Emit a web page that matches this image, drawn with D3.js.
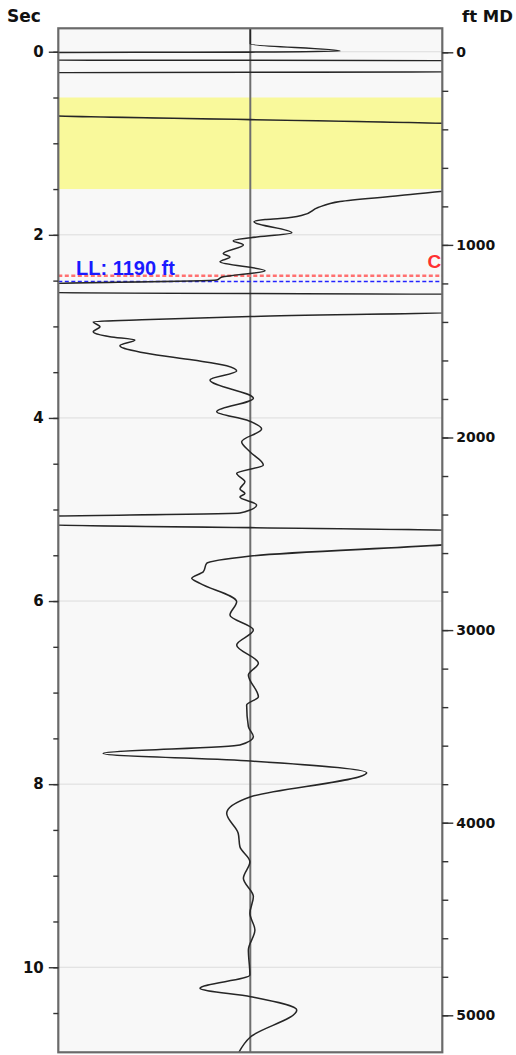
<!DOCTYPE html>
<html>
<head>
<meta charset="utf-8">
<script src="https://cdn.jsdelivr.net/npm/d3@7"></script>
<style>
  body { margin: 0; background: #fff; }
</style>
</head>
<body>
<div id="chartDiv"></div>
<script>
// Trace samples: two-way time (sec) and amplitude (-1..1 fills the track, beyond that is off scale)
var traceTime = [-0.26, -0.084, -0.008, 0.004, 0.009, 0.091, 0.097, 0.221, 0.227, 0.680, 0.803,
  1.455, 1.571, 1.636, 1.702, 1.784, 1.822, 1.833, 1.858, 1.977, 2.032, 2.064, 2.111, 2.204,
  2.243, 2.294, 2.392, 2.461, 2.494, 2.543, 2.630, 2.650, 2.837, 2.892, 2.925, 2.949, 3.004,
  3.058, 3.113, 3.149, 3.211, 3.294, 3.368, 3.430, 3.488, 3.586, 3.786, 3.932, 4.023, 4.121,
  4.260, 4.369, 4.514, 4.605, 4.697, 4.777, 4.824, 4.864, 4.951, 5.039, 5.082, 5.156, 5.240,
  5.339, 5.508, 5.588, 5.680, 5.752, 5.807, 6.008, 6.153, 6.317, 6.481, 6.680, 6.808, 7.045,
  7.136, 7.373, 7.482, 7.573, 7.664, 7.748, 7.876, 8.138, 8.319, 8.537, 8.684, 8.848, 9.029,
  9.230, 9.411, 9.594, 9.812, 10.085, 10.230, 10.322, 10.467, 10.759, 10.99];
var traceAmp = [0, 0, 0.467, 0, -1.2, -1.2, 1.2, 1.2, -1.2, -1.2, 1.2,
  1.2, 0.780, 0.467, 0.353, 0.274, 0.155, 0.077, 0.019, 0.216, 0.002, -0.089, -0.036, -0.141,
  -0.106, -0.158, 0.077, -0.147, -0.175, -1.2, -1.2, 1.2, 1.2, 0, -0.522, -0.818, -0.783,
  -0.818, -0.731, -0.601, -0.679, -0.540, -0.297, -0.123, -0.071, -0.210, 0.016, -0.175, -0.019, 0.059,
  -0.045, -0.002, 0.068, -0.071, -0.028, -0.054, -0.028, -0.054, 0.033, -0.054, -1.2, -1.2, 1.2,
  1.2, 0.002, -0.227, -0.245, -0.305, -0.262, -0.071, -0.106, 0.016, -0.071, 0.042, -0.010, 0.042,
  -0.019, -0.010, 0.016, -0.054, -0.766, 0.002, 0.606, 0.002, -0.123, -0.063, -0.054, -0.002, -0.036,
  0.016, -0.002, 0.024, -0.010, -0.002, -0.262, 0.002, 0.242, 0.002, -0.074];

// axis labels
var secTicks = [0, 2, 4, 6, 8, 10];
var ftTicks = [0, 1000, 2000, 3000, 4000, 5000];

// highlighted zone (sec)
var zoneTop = [0.5];
var zoneBase = [1.5];

// markers in ft MD
var markerNames = ['LL: 1190 ft', 'C'];
var markerDepths = [1190, 1160];
var markerColors = ['#1a1aff', '#ff3030'];

var chartWidth = 516;
var chartHeight = 1055;
// note: "top" is taken by window.top, so the plot edges get their own names
var plotLeft = 58.3, plotRight = 442.3, plotTop = 28.3, plotBottom = 1052.3;

var svg = d3.select('#chartDiv')
            .append('svg')
            .attr('width', chartWidth)
            .attr('height', chartHeight);

var y = d3.scaleLinear().domain([-0.256, 10.929]).range([plotTop, plotBottom]);
var depth = d3.scaleLinear().domain([0, 5000]).range([52.3, 1015.3]);
var x = d3.scaleLinear().domain([-1, 1]).range([plotLeft, plotRight]);

svg.append('clipPath').attr('id', 'track')
   .append('rect')
   .attr('x', plotLeft).attr('y', plotTop)
   .attr('width', plotRight - plotLeft).attr('height', plotBottom - plotTop);

// track background
svg.append('rect')
   .attr('x', plotLeft).attr('y', plotTop)
   .attr('width', plotRight - plotLeft).attr('height', plotBottom - plotTop)
   .attr('fill', '#f8f8f8');

// yellow zone
svg.selectAll('.zone')
   .data(zoneTop)
   .enter()
   .append('rect')
   .attr('class', 'zone')
   .attr('x', plotLeft)
   .attr('y', function(d) { return y(d); })
   .attr('width', plotRight - plotLeft)
   .attr('height', function(d, i) { return y(zoneBase[i]) - y(d); })
   .attr('fill', '#f9f99b');

// grid lines
svg.selectAll('.grid')
   .data(secTicks)
   .enter()
   .append('line')
   .attr('class', 'grid')
   .attr('x1', plotLeft).attr('x2', plotRight)
   .attr('y1', function(d) { return y(d); })
   .attr('y2', function(d) { return y(d); })
   .attr('stroke', '#dcdcdc')
   .attr('stroke-width', 1);

// zero line of the track
svg.append('line')
   .attr('x1', x(0)).attr('x2', x(0))
   .attr('y1', plotTop).attr('y2', plotBottom)
   .attr('stroke', '#6e6e6e')
   .attr('stroke-width', 2);

var track = svg.append('g').attr('clip-path', 'url(#track)');

// dashed marker lines
track.selectAll('.marker')
   .data(markerDepths)
   .enter()
   .append('line')
   .attr('class', 'marker')
   .attr('x1', plotLeft).attr('x2', plotRight)
   .attr('y1', function(d) { return depth(d); })
   .attr('y2', function(d) { return depth(d); })
   .attr('stroke', function(d, i) { return i === 0 ? '#2323ff' : '#ff7070'; })
   .attr('stroke-width', function(d, i) { return i === 0 ? 1.6 : 2.4; })
   .attr('stroke-dasharray', '4,2.5');

// trace
var points = traceTime.map(function(t, i) { return [traceAmp[i], t]; });
var line = d3.line()
             .x(function(d) { return x(d[0]); })
             .y(function(d) { return y(d[1]); })
             .curve(d3.curveMonotoneY);

track.append('path')
     .datum(points)
     .attr('d', line)
     .attr('fill', 'none')
     .attr('stroke', '#262626')
     .attr('stroke-width', 1.55);

// marker labels
track.append('text')
     .attr('x', 76)
     .attr('y', depth(markerDepths[0]) - 6.5)
     .attr('fill', markerColors[0])
     .style('font', 'bold 20px "Liberation Sans", Arial, sans-serif')
     .text(markerNames[0]);

track.append('text')
     .attr('x', 427.5)
     .attr('y', depth(markerDepths[1]) - 8)
     .attr('fill', markerColors[1])
     .style('font', 'bold 19px "Liberation Sans", Arial, sans-serif')
     .text(markerNames[1]);

// frame
svg.append('rect')
   .attr('x', plotLeft).attr('y', plotTop)
   .attr('width', plotRight - plotLeft).attr('height', plotBottom - plotTop)
   .attr('fill', 'none')
   .attr('stroke', '#6a6a6a')
   .attr('stroke-width', 2.2);

// left time axis
var secMinor = svg.append('g')
   .attr('transform', 'translate(' + plotLeft + ',0)')
   .call(d3.axisLeft(y).tickValues(d3.range(0, 10.75, 0.5)).tickSize(5).tickFormat(''));
var secMajor = svg.append('g')
   .attr('transform', 'translate(' + plotLeft + ',0)')
   .call(d3.axisLeft(y).tickValues(secTicks).tickSize(9.5).tickPadding(5));

// right depth axis
var ftMinor = svg.append('g')
   .attr('transform', 'translate(' + plotRight + ',0)')
   .call(d3.axisRight(depth).tickValues(d3.range(0, 5200, 200)).tickSize(6).tickFormat(''));
var ftMajor = svg.append('g')
   .attr('transform', 'translate(' + plotRight + ',0)')
   .call(d3.axisRight(depth).tickValues(ftTicks).tickSize(11).tickPadding(3).tickFormat(d3.format('d')));

[secMinor, secMajor, ftMinor, ftMajor].forEach(function(g) {
  g.select('.domain').remove();
  g.selectAll('line').attr('stroke', '#333').attr('stroke-width', 1.4);
});
secMajor.selectAll('text')
        .attr('fill', '#111')
        .style('font', 'bold 15px "DejaVu Sans", sans-serif');
ftMajor.selectAll('text')
       .attr('fill', '#111')
       .style('font', 'bold 14px "DejaVu Sans", sans-serif');

// axis titles
svg.append('text')
   .attr('x', 7).attr('y', 21.5)
   .attr('fill', '#111')
   .style('font', 'bold 17px "DejaVu Sans", sans-serif')
   .text('Sec');
svg.append('text')
   .attr('x', 513).attr('y', 21.5)
   .attr('text-anchor', 'end')
   .attr('fill', '#111')
   .style('font', 'bold 16.5px "DejaVu Sans", sans-serif')
   .text('ft MD');
</script>
</body>
</html>
